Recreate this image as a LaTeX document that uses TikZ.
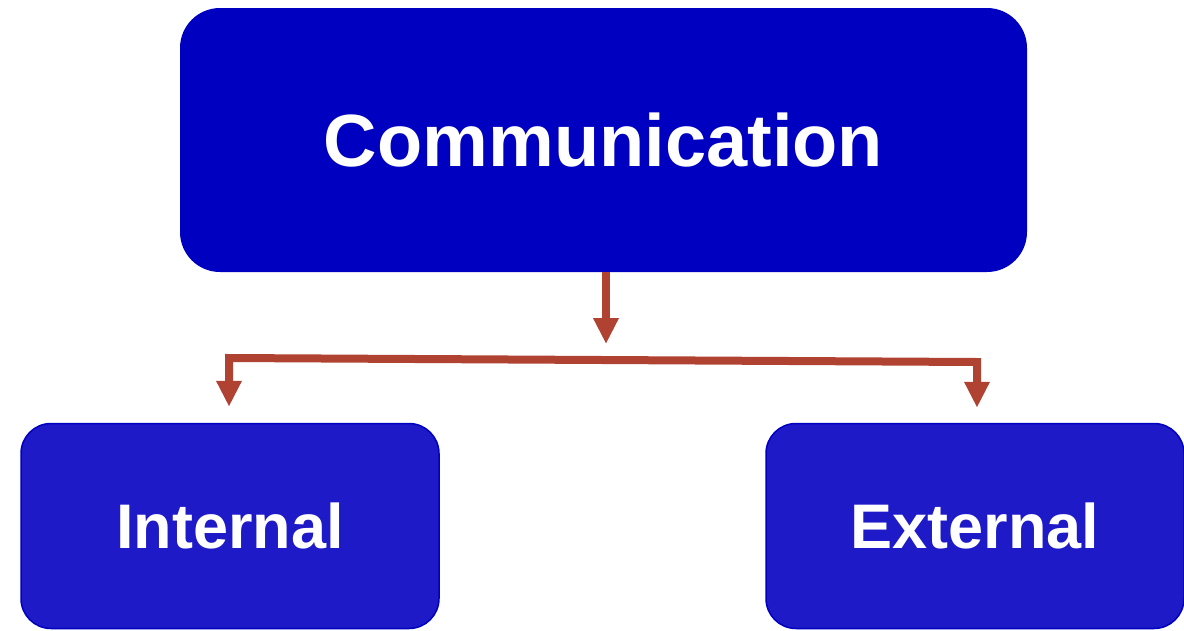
\documentclass[tikz,border=0pt]{standalone}
\usepackage{fontspec}
\setmainfont{Liberation Sans}
\usetikzlibrary{arrows.meta}

\definecolor{topblue}{RGB}{0,0,192}
\definecolor{subblue}{RGB}{30,26,200}
\definecolor{linkred}{RGB}{176,66,50}

\tikzset{
  topbox/.style={draw=none, fill=topblue, rounded corners=40pt, text=white,
    minimum width=847pt, minimum height=264pt, font=\bfseries\fontsize{74}{80}\selectfont},
  subbox/.style={draw=topblue, line width=1.5pt, fill=subblue, rounded corners=30pt, text=white,
    minimum width=418pt, minimum height=205pt, font=\bfseries\fontsize{63}{70}\selectfont},
  link/.style={draw=linkred, line width=8pt, line join=miter}
}

\begin{document}
\begin{tikzpicture}[x=1pt, y=-1pt]
  \useasboundingbox (0, 0) rectangle (1184, 630);
  \node[topbox] (comm) at (603.5, 140) {Communication};
  \node[subbox] (internal) at (230, 526) {Internal};
  \node[subbox] (external) at (975, 526) {External};
  \coordinate (split) at (606, 344);
  \coordinate (lbend) at (229, 358);
  \coordinate (rbend) at (977, 362);
  \draw[link, -{Triangle[width=24pt, length=26pt]}] (comm.south -| split) -- (split);
  \draw[link, {Triangle[width=24pt, length=26pt]}-{Triangle[width=24pt, length=26pt]},
    shorten <=16pt, shorten >=15pt]
    (lbend |- internal.north) -- (lbend) -- (rbend) -- (rbend |- external.north);
\end{tikzpicture}
\end{document}
